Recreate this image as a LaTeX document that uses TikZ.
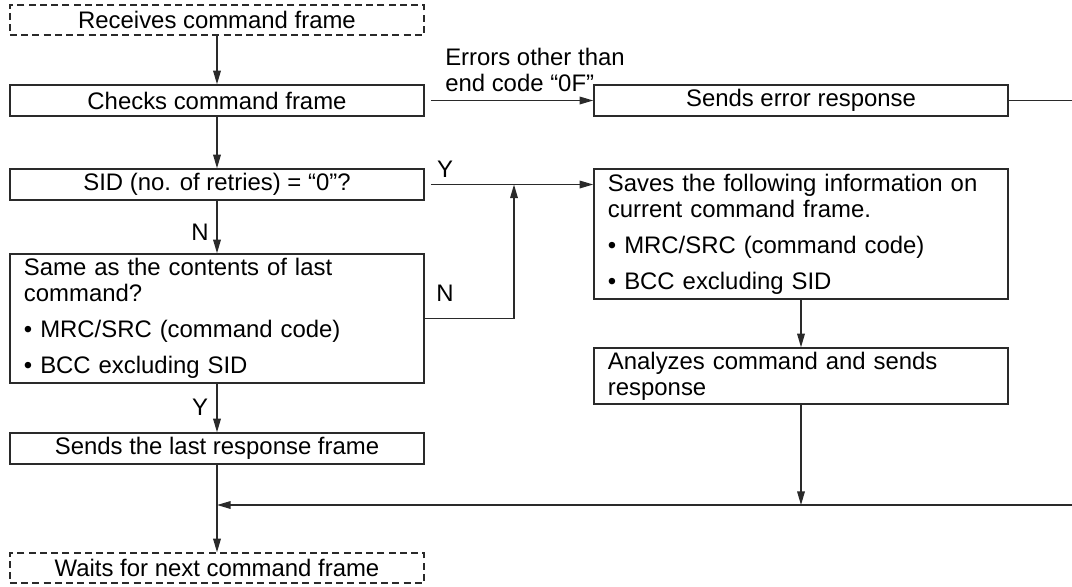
\documentclass[tikz,border=0pt]{standalone}
\usepackage{fontspec}
\setmainfont{Liberation Sans}
\usepackage{tikz}
\usetikzlibrary{arrows.meta, calc}
\definecolor{flowline}{HTML}{2A2A2A}
\newcommand{\flowfont}{\fontsize{17pt}{18.5pt}\selectfont}
\tikzset{
	stepbox/.style={rectangle, draw=flowline, line width=1pt, minimum width=10.35cm, minimum height=0.775cm, inner sep=0pt, align=center, font=\flowfont},
	endbox/.style={stepbox, minimum height=0.75cm, dash pattern=on 5pt off 3pt},
	infobox/.style={stepbox, text width=9.65cm, align=left},
	arrow/.style={line width=1pt, draw=flowline, -{Triangle[length=3.4mm, width=1.9mm]}},
	plain/.style={line width=1pt, draw=flowline},
	tag/.style={inner sep=0pt, font=\flowfont}
}

\begin{document}
\begin{tikzpicture}[x=0.025cm, y=-0.025cm]
		\useasboundingbox (0,0) rectangle (1072,586);

		% Left column
		\node [endbox] (recv) at (217,20) {Receives command frame};
		\node [stepbox] (check) at (217,100.5) {Checks command frame};
		\node [stepbox] (sid) at (217,184.5) {SID (no. of retries) = “0”?};
		\node [infobox, minimum height=3.225cm] (same) at (217,318.5) {Same as the contents of last\\ command?\\[7pt] \textbullet\ MRC/SRC (command code)\\[7pt] \textbullet\ BCC excluding SID};
		\node [stepbox] (sendlast) at (217,448.5) {Sends the last response frame};
		\node [endbox] (wait) at (217,568) {Waits for next command frame};

		% Right column
		\node [stepbox] (senderr) at (801,100.5) {Sends error response};
		\node [infobox, minimum height=3.25cm] (save) at (801,234) {Saves the following information on\\ current command frame.\\[7pt] \textbullet\ MRC/SRC (command code)\\[7pt] \textbullet\ BCC excluding SID};
		\node [infobox, minimum height=1.4cm] (analyze) at (801,376) {Analyzes command and sends\\ response};

		% Free ends and joints
		\coordinate (edgeTop) at (1072,100.5);
		\coordinate (edgeBot) at (1072,505);
		\coordinate (join) at (514,184.5);

		% Labels
		\node [tag, align=left, anchor=north west] (errtag) at (445,48) {Errors other than\\ end code “0F”};
		\node [tag] (ytop) at (445,169) {Y};
		\node [tag] (nright) at (445,293) {N};
		\node [tag] (nleft) at (200,232) {N};
		\node [tag] (yleft) at (200,407) {Y};

		% Connectors
		\draw [arrow] (recv) -- (check);
		\draw [arrow] (check) -- (sid);
		\draw [arrow, shorten <=1.5mm] (check) -- (senderr);
		\draw [plain] (senderr.east) -- (edgeTop);
		\draw [arrow, shorten <=1.5mm] (sid.east) -- (sid.east -| save.west);
		\draw [arrow] (sid) -- (same);
		\draw [arrow] (same.east) -| (join);
		\draw [arrow] (same) -- (sendlast);
		\draw [arrow] (sendlast) -- (wait);
		\draw [arrow] (save) -- (analyze);
		\draw [arrow] (analyze) -- (analyze.south |- edgeBot);
		\draw [arrow] (edgeBot) -- (sendlast.south |- edgeBot);
	\end{tikzpicture}
\end{document}
